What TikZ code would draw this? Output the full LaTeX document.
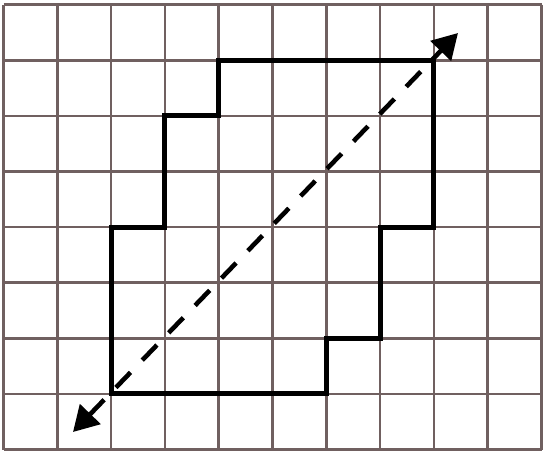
\documentclass[tikz,border=0pt]{standalone}
\usetikzlibrary{arrows.meta}
\definecolor{gridc}{RGB}{112,96,96}
\tikzset{
  gridline/.style={draw=gridc, line width=2.6pt},
  outline/.style={draw=black, line width=5pt, line join=miter},
  diag/.style={draw=black, line width=4.6pt, dash pattern=on 21pt off 17pt,
    {Triangle[length=25pt,width=28pt]}-{Triangle[length=25pt,width=28pt]}}
}
\begin{document}
\begin{tikzpicture}[x=1pt,y=-1pt]
\useasboundingbox (0,0) rectangle (545,455);
% grid
\foreach \i in {0,...,10} {
  \draw[gridline] ({3.5+53.8*\i},4.7) -- ({3.5+53.8*\i},449.5);
}
\foreach \j in {0,...,8} {
  \draw[gridline] (3.5,{4.7+55.6*\j}) -- (541.5,{4.7+55.6*\j});
}
% staircase outline
\coordinate (p0) at (111.1,393.9);
\coordinate (p1) at (326.3,393.9);
\coordinate (p2) at (326.3,338.3);
\coordinate (p3) at (380.1,338.3);
\coordinate (p4) at (380.1,227.1);
\coordinate (p5) at (433.9,227.1);
\coordinate (p6) at (433.9,60.3);
\coordinate (p7) at (218.7,60.3);
\coordinate (p8) at (218.7,115.9);
\coordinate (p9) at (164.9,115.9);
\coordinate (p10) at (164.9,227.1);
\coordinate (p11) at (111.1,227.1);
\draw[outline] (p0) -- (p1) -- (p2) -- (p3) -- (p4) -- (p5) -- (p6) -- (p7) -- (p8) -- (p9) -- (p10) -- (p11) -- cycle;
% dashed double arrow
\coordinate (a) at (73,432);
\coordinate (b) at (458,33);
\draw[diag] (a) -- (b);
\end{tikzpicture}
\end{document}
